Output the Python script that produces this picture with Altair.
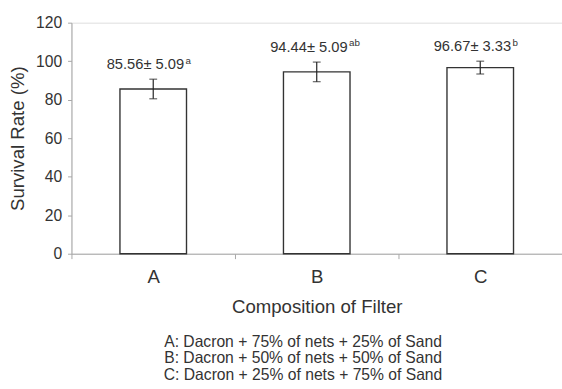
import altair as alt
import pandas as pd

categories = ["A", "B", "C"]
means = [85.56, 94.44, 96.67]
sds = [5.09, 5.09, 3.33]
sups = ["a", "ab", "b"]
notes = [
    "A: Dacron + 75% of nets + 25% of Sand",
    "B: Dacron + 50% of nets + 50% of Sand",
    "C: Dacron + 25% of nets + 75% of Sand",
]
y_ticks = [0, 20, 40, 60, 80, 100, 120]

df = pd.DataFrame({
    "cat": categories,
    "mean": means,
    "sd": sds,
    "sup": sups,
})
df["lo"] = df["mean"] - df["sd"]
df["hi"] = df["mean"] + df["sd"]
df["label"] = [f"{m:.2f}\u00b1 {s:.2f}" for m, s in zip(means, sds)]

FONT = "Liberation Sans"
TXT = "#333333"

x_axis = alt.Axis(title="Composition of Filter", labelAngle=0, tickBand="extent",
                  tickSize=5, domainColor="#a6a6a6", tickColor="#a6a6a6",
                  labelFontSize=19, labelColor=TXT, labelPadding=9,
                  titleFontSize=19, titleFontWeight="normal", titleColor=TXT,
                  titlePadding=12, labelFont=FONT, titleFont=FONT)
y_axis = alt.Axis(title="Survival Rate (%)", values=y_ticks, labelOverlap=False,
                  grid=False, tickSize=4, domainColor="#a6a6a6", tickColor="#a6a6a6",
                  labelFontSize=16, labelColor=TXT, labelPadding=6,
                  titleFontSize=19, titleFontWeight="normal", titleColor=TXT,
                  titlePadding=8, labelFont=FONT, titleFont=FONT)
x_scale = alt.Scale(paddingInner=0, paddingOuter=0)
y_scale = alt.Scale(domain=[0, 120])

X = alt.X("cat:N", sort=categories, scale=x_scale, axis=x_axis)


def Y(field):
    return alt.Y(field, scale=y_scale, axis=y_axis)


base = alt.Chart(df)

bars = base.mark_bar(width=alt.RelativeBandSize(0.407), fill="white", stroke="#333333",
                     strokeWidth=1.4).encode(x=X, y=Y("mean:Q"))

err = base.mark_rule(color="#222222", strokeWidth=1.2).encode(
    x=X, y=Y("lo:Q"), y2="hi:Q")
cap_hi = base.mark_tick(color="#222222", size=8, thickness=1.2, orient="horizontal").encode(
    x=X, y=Y("hi:Q"))
cap_lo = base.mark_tick(color="#222222", size=8, thickness=1.2, orient="horizontal").encode(
    x=X, y=Y("lo:Q"))

labels = base.mark_text(font=FONT, fontSize=15, color=TXT, align="center", baseline="middle",
                        dx=-8, dy=-15).encode(x=X, y=Y("hi:Q"), text="label:N")
suplab = base.mark_text(font=FONT, fontSize=10, color=TXT, align="left", baseline="middle",
                        dx=33, dy=-19).encode(x=X, y=Y("hi:Q"), text="sup:N")

chart = alt.layer(bars, err, cap_hi, cap_lo, labels, suplab).properties(
    width=501, height=236,
    autosize=alt.AutoSizeParams(type="none"),
    padding={"left": 73, "top": 19, "right": 0, "bottom": 134},
    title=alt.TitleParams(text=notes, orient="bottom", anchor="middle", fontSize=16,
                          fontWeight="normal", font=FONT, color=TXT, lineHeight=17,
                          offset=18, dx=-14),
).configure_view(stroke=None).configure_axisY(labelOverlap=False).configure(background="white")

chart.save("out.html", embed_options={"renderer": "svg", "actions": False})
